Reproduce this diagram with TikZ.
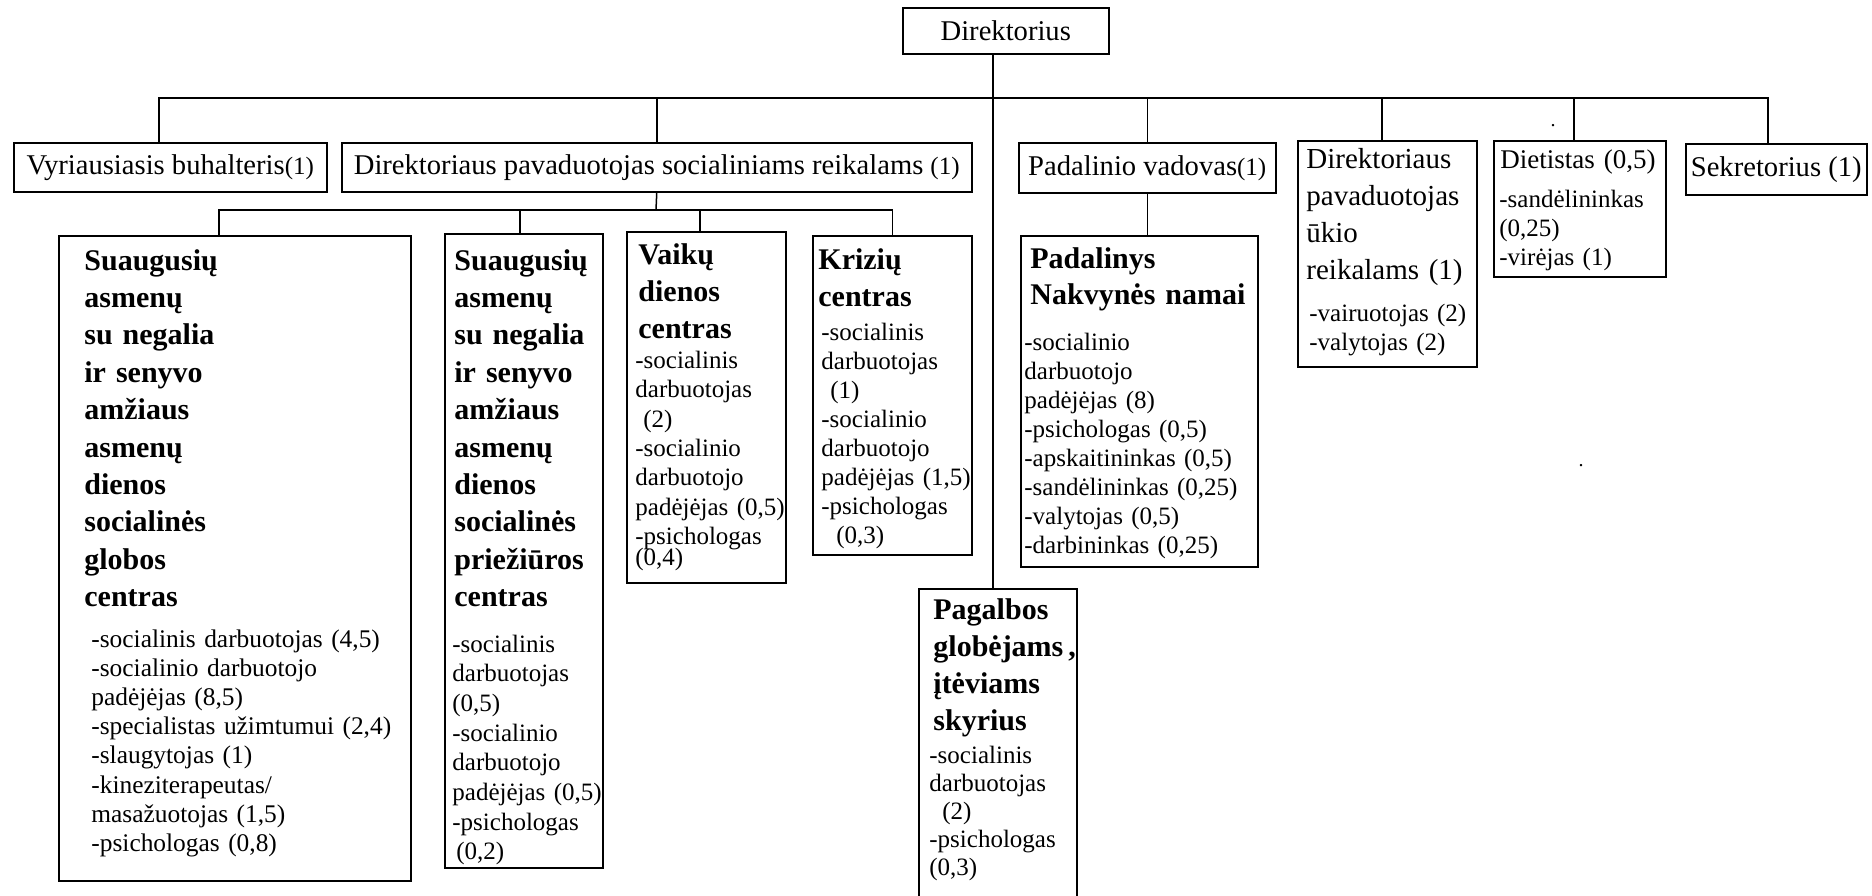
\documentclass[tikz,border=0pt]{standalone}
\usepackage{fontspec}
\setmainfont{Liberation Serif}
\usetikzlibrary{fit}
\newcommand{\cnt}[1]{{\fontsize{12.5}{14}\selectfont(#1)}}

\begin{document}
\begin{tikzpicture}[x=0.5pt, y=-0.5pt,
    orgbox/.style={draw, line width=0.75pt, inner sep=0pt},
    boxtitle/.style={anchor=north west, font=\fontsize{14.3}{17}\selectfont},
    titletext/.style={anchor=base west, inner sep=0pt, align=left, text width=200pt, font=\fontsize{14.5}{18.5}\selectfont},
    headtext/.style={anchor=base west, inner sep=0pt, align=left, text width=200pt, font=\fontsize{15}{18.7}\selectfont\bfseries},
    listtext/.style={anchor=base west, inner sep=0pt, align=left, text width=200pt, font=\fontsize{12.5}{14.65}\selectfont},
    link/.style={line width=0.75pt}]
    \path[fill=white, use as bounding box] (0,0) rectangle (1872,895);

    \node[orgbox, boxtitle, minimum width=103pt, minimum height=23pt] (dir) at (902,7) {Direktorius};
    \node[orgbox, boxtitle, minimum width=156.5pt, minimum height=24.5pt] (vb) at (13,142) {Vyriausiasis buhalteris\cnt{1}};
    \node[orgbox, boxtitle, minimum width=315pt, minimum height=24.5pt] (dps) at (341,142) {Direktoriaus pavaduotojas socialiniams reikalams \cnt{1}};
    \node[orgbox, boxtitle, minimum width=128.5pt, minimum height=25pt] (pv) at (1018,142) {Padalinio vadovas\cnt{1}};
    \node[orgbox, boxtitle, minimum width=90.5pt, minimum height=25.5pt] (sek) at (1685,143) {Sekretorius (1)};

    \node[orgbox, fit={(1298,141) (1477,367)}] (uk) {};
    \node[titletext] (ukt) at (1306,168.4) {Direktoriaus\\pavaduotojas\\ūkio\\reikalams (1)};
    \node[listtext, font=\fontsize{12.5}{14.5}\selectfont] (ukl) at (1309,321.5) {-vairuotojas (2)\\-valytojas (2)};

    \node[orgbox, fit={(1494,141) (1666,277)}] (diet) {};
    \node[titletext, font=\fontsize{13.5}{16}\selectfont] (diett) at (1500,168.4) {Dietistas (0,5)};
    \node[listtext, font=\fontsize{12.5}{14.5}\selectfont] (dietl) at (1499,207.5) {-sandėlininkas\\(0,25)\\-virėjas (1)};

    \node[orgbox, fit={(59,236) (411,881)}] (s1) {};
    \node[headtext] (s1h) at (84,270) {Suaugusių\\asmenų\\su negalia\\ir senyvo\\amžiaus\\asmenų\\dienos\\socialinės\\globos\\centras};
    \node[listtext, font=\fontsize{12.7}{14.6}\selectfont] (s1l) at (91,647) {-socialinis darbuotojas (4,5)\\-socialinio darbuotojo\\padėjėjas (8,5)\\-specialistas užimtumui (2,4)\\-slaugytojas (1)\\-kineziterapeutas/\\masažuotojas (1,5)\\-psichologas (0,8)};

    \node[orgbox, fit={(445,234) (603,868)}] (s2) {};
    \node[headtext] (s2h) at (454,270) {Suaugusių\\asmenų\\su negalia\\ir senyvo\\amžiaus\\asmenų\\dienos\\socialinės\\priežiūros\\centras};
    \node[listtext, font=\fontsize{12.5}{14.85}\selectfont] (s2l) at (452,652) {-socialinis\\darbuotojas\\(0,5)\\-socialinio\\darbuotojo\\padėjėjas (0,5)\\-psichologas\\\hspace*{2pt}(0,2)};

    \node[orgbox, fit={(627,232) (786,583)}] (vk) {};
    \node[headtext, font=\fontsize{15}{18.5}\selectfont\bfseries] (vkh) at (638,264.5) {Vaikų\\dienos\\centras};
    \node[listtext] (vkl) at (635,368.5) {-socialinis\\darbuotojas\\\hspace*{4pt}(2)\\-socialinio\\darbuotojo\\padėjėjas (0,5)\\-psichologas\\[-4pt](0,4)};

    \node[orgbox, fit={(813,236) (972,555)}] (kr) {};
    \node[headtext, font=\fontsize{15}{18.5}\selectfont\bfseries] (krh) at (818,269.5) {Krizių\\centras};
    \node[listtext, font=\fontsize{12.5}{14.5}\selectfont] (krl) at (821,340.5) {-socialinis\\darbuotojas\\\hspace*{4.5pt}(1)\\-socialinio\\darbuotojo\\padėjėjas (1,5)\\-psichologas\\\hspace*{7.5pt}(0,3)};

    \node[orgbox, fit={(1021,236) (1258,567)}] (pn) {};
    \node[headtext, font=\fontsize{15}{18}\selectfont\bfseries] (pnh) at (1030,268.5) {Padalinys\\Nakvynės namai};
    \node[listtext, font=\fontsize{12.5}{14.5}\selectfont] (pnl) at (1024,350.5) {-socialinio\\darbuotojo\\padėjėjas (8)\\-psichologas (0,5)\\-apskaitininkas (0,5)\\-sandėlininkas (0,25)\\-valytojas (0,5)\\-darbininkas (0,25)};

    \node[orgbox, fit={(919,589) (1077,900)}] (pg) {};
    \node[headtext, font=\fontsize{15}{18.5}\selectfont\bfseries] (pgh) at (933,619.5) {Pagalbos\\globėjams\,,\\įtėviams\\skyrius};
    \node[listtext, font=\fontsize{12.5}{14}\selectfont] (pgl) at (929,763.5) {-socialinis\\darbuotojas\\\hspace*{6.5pt}(2)\\-psichologas\\(0,3)};

    \node[inner sep=0pt, font=\fontsize{10}{12}\selectfont] (dot1) at (1553,126) {.};
    \node[inner sep=0pt, font=\fontsize{10}{12}\selectfont] (dot2) at (1581,466) {.};

    \coordinate (trunk) at (993,98);
    \coordinate (sub) at (656,210);
    \draw[link] (trunk |- dir.south) -- (trunk |- pg.north);
    \draw[link] (trunk) -| ([xshift=-5.75pt]vb.north);
    \draw[link] (trunk) -| (dps.north);
    \draw[link] (trunk) -| (pv.north);
    \draw[link] (trunk) -| ([xshift=-2.75pt]uk.north);
    \draw[link] (trunk) -| ([xshift=-3pt]diet.north);
    \draw[link] (trunk) -| ([xshift=-4.25pt]sek.north);
    \draw[link] (dps.south) -- (sub);
    \draw[link] (sub) -| ([xshift=-8pt]s1.north);
    \draw[link] (sub) -| ([xshift=-2pt]s2.north);
    \draw[link] (sub) -| ([xshift=-3.25pt]vk.north);
    \draw[link] (sub) -| (kr.north);
    \draw[link] (pv.south) -- (pv.south |- pn.north);
\end{tikzpicture}
\end{document}
